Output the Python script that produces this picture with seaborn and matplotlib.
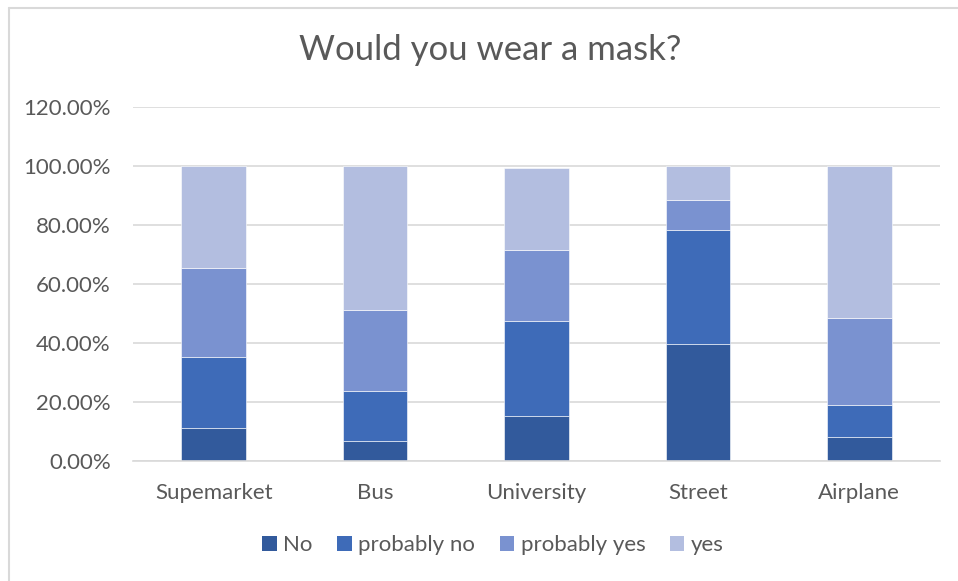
import numpy as np
import pandas as pd
import matplotlib
matplotlib.use("Agg")
import matplotlib.pyplot as plt
import seaborn as sns
from matplotlib.patches import Patch
from matplotlib.ticker import FuncFormatter

places = ["Supemarket", "Bus", "University", "Street", "Airplane"]
answers = ["No", "probably no", "probably yes", "yes"]
share_no = [0.113, 0.069, 0.154, 0.397, 0.082]
share_probably_no = [0.240, 0.169, 0.319, 0.386, 0.109]
share_probably_yes = [0.301, 0.273, 0.242, 0.102, 0.295]
share_yes = [0.346, 0.489, 0.279, 0.115, 0.514]
colors = ["#325A9C", "#3E6BB8", "#7A92D0", "#B3BEE0"]

sns.set_theme(style="white")
plt.rcParams["font.family"] = ["Lato", "DejaVu Sans"]
text_color = "#595959"

df = pd.DataFrame({
    "place": places,
    "No": share_no,
    "probably no": share_probably_no,
    "probably yes": share_probably_yes,
    "yes": share_yes,
})

W, H = 958, 581
fig = plt.figure(figsize=(W / 100, H / 100), dpi=100)
ax = fig.add_axes([133 / W, 1 - 461 / H, (940 - 133) / W, (461 - 107) / H])

bottom = np.zeros(len(places))
for answer, color in zip(answers, colors):
    sns.barplot(data=df, x="place", y=answer, color=color, bottom=bottom,
                width=0.4, ax=ax, saturation=1, edgecolor="white", linewidth=0.4)
    bottom = bottom + df[answer].to_numpy()

ax.set_xlim(-0.5, 4.5)
ax.set_ylim(0, 1.2)
ax.set_yticks(np.arange(0, 1.21, 0.2))
ax.yaxis.set_major_formatter(FuncFormatter(lambda v, _: f"{v * 100:.2f}%"))
ax.grid(axis="y", color="#D9D9D9", linewidth=1.2)
ax.set_axisbelow(True)
for side in ["top", "right", "left"]:
    ax.spines[side].set_visible(False)
ax.spines["bottom"].set_color("#D9D9D9")
ax.spines["bottom"].set_linewidth(1.2)
ax.set_xlabel("")
ax.set_ylabel("")
ax.tick_params(axis="both", length=0, labelsize=16, labelcolor=text_color)
ax.tick_params(axis="y", pad=16)
ax.tick_params(axis="x", pad=16)

fig.text(490 / W, 1 - 50 / H, "Would you wear a mask?", ha="center", va="center",
         fontsize=25, color=text_color)

handles = [Patch(facecolor=c, edgecolor="none") for c in colors]
fig.legend(handles, answers, loc="center", bbox_to_anchor=(493 / W, 1 - 545 / H),
           ncol=4, frameon=False, fontsize=16, labelcolor=text_color,
           handlelength=0.65, handleheight=0.65, handletextpad=0.3, columnspacing=1.1)

# chart area border
fig.add_artist(plt.Line2D([8.5 / W, 8.5 / W], [0, 1 - 7.5 / H], transform=fig.transFigure,
                          color="#D9D9D9", linewidth=1.5))
fig.add_artist(plt.Line2D([8.5 / W, 1], [1 - 7.5 / H, 1 - 7.5 / H], transform=fig.transFigure,
                          color="#D9D9D9", linewidth=1.5))

fig.savefig("out.png", dpi=100)
